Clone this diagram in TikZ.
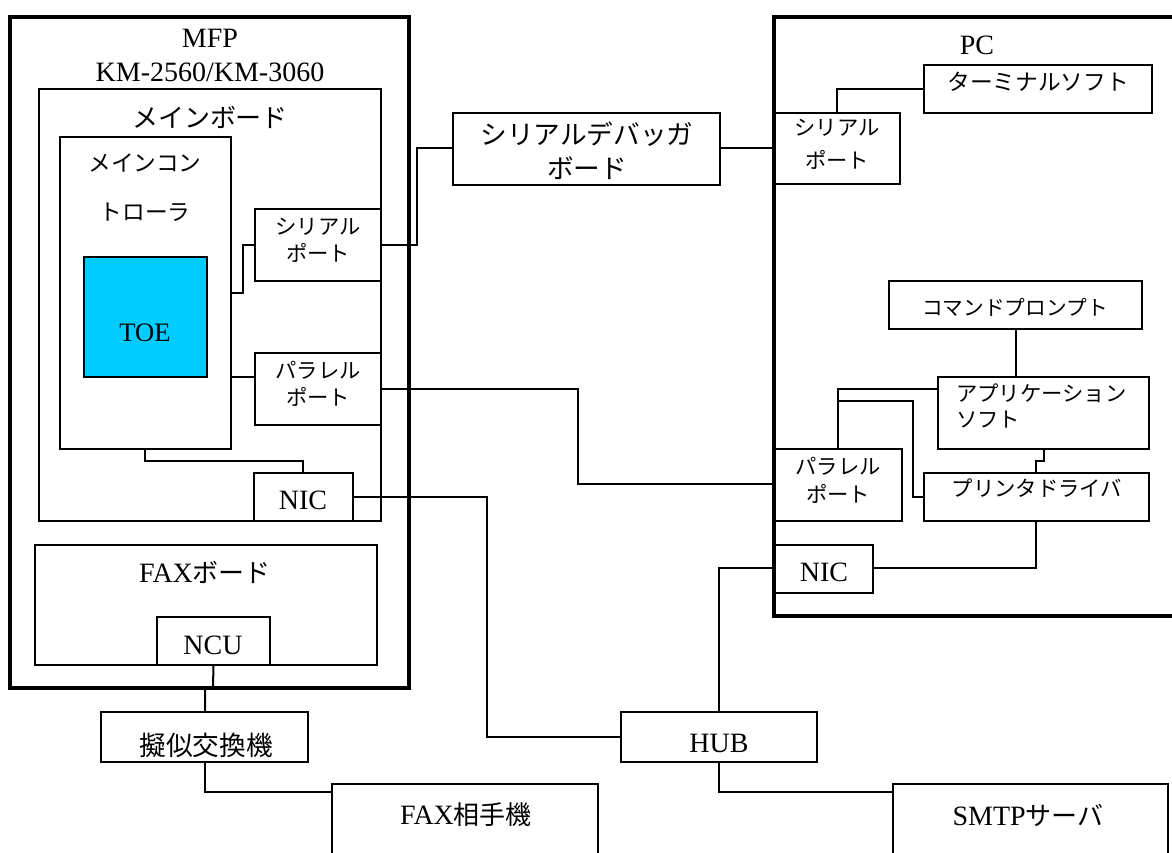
\documentclass[tikz,border=0pt]{standalone}
\usepackage{fontspec}
\setmainfont{Liberation Serif}
\newfontfamily\jp{Noto Sans CJK JP}
\newcommand\mybox[6]{%
  \node[#6, minimum width={(#4-#2)*0.75pt}, minimum height={(#5-#3)*0.75pt}] (#1) at ({(#2+#4)/2},{(#3+#5)/2}) {};}
\definecolor{toecyan}{RGB}{0,204,255}
\tikzset{
  box/.style={draw, line width=1.5pt, inner sep=0pt, outer sep=0pt},
  bigbox/.style={draw, line width=3.2pt, inner sep=0pt, outer sep=0pt},
  wire/.style={line width=1.5pt},
  lat/.style={font=\fontsize{21}{25}\selectfont, inner sep=0pt},
  jpL/.style={font=\jp\fontsize{19.5}{23}\selectfont, inner sep=0pt},
  jpM/.style={font=\jp\fontsize{17}{20}\selectfont, inner sep=0pt},
  jpS/.style={font=\jp\fontsize{16}{19}\selectfont, inner sep=0pt},
  jpXS/.style={font=\jp\fontsize{15.5}{18}\selectfont, inner sep=0pt},
}
\begin{document}
\begin{tikzpicture}[x=0.75pt,y=-0.75pt]
\clip (0,0) rectangle (1172,853);
\fill[white] (0,0) rectangle (1172,853);
% big containers
\mybox{mfp}{10}{17}{409}{688}{bigbox}
\mybox{pc}{774}{17}{1190}{616}{bigbox}
% MFP internals
\mybox{mainb}{39}{89}{381}{521}{box}
\mybox{ctrl}{60}{137}{231}{449}{box}
\mybox{toe}{84}{257}{207}{377}{box, fill=toecyan}
\mybox{mser}{255}{209}{381}{281}{box}
\mybox{mpar}{255}{353}{381}{425}{box}
\mybox{mnic}{254}{473}{353}{521}{box}
\mybox{faxb}{35}{545}{377}{665}{box}
\mybox{ncu}{157}{617}{270}{665}{box}
% middle
\mybox{dbg}{453}{113}{720}{185}{box}
% PC internals
\mybox{term}{924}{65}{1152}{113}{box}
\mybox{pser}{774}{113}{900}{184}{box}
\mybox{cmd}{889}{281}{1142}{329}{box}
\mybox{app}{938}{377}{1149}{449}{box}
\mybox{ppar}{774}{449}{902}{521}{box}
\mybox{drv}{924}{473}{1149}{521}{box}
\mybox{pnic}{774}{545}{873}{593}{box}
% bottom
\mybox{pbx}{101}{712}{308}{762}{box}
\mybox{fax2}{332}{784}{598}{880}{box}
\mybox{hub}{621}{712}{817}{762}{box}
\mybox{smtp}{893}{784}{1168}{880}{box}

% texts
\node[lat] (tmfp) at (210,38) {MFP};
\node[lat] (tkm) at (210,72) {KM-2560/KM-3060};
\node[jpL] (tmain) at (210,117) {メインボード};
\node[jpM] (tctrl1) at (145,163) {メインコン};
\node[jpM] (tctrl2) at (145,212) {トローラ};
\node[lat, font=\fontsize{20}{24}\selectfont] (ttoe) at (145,333) {TOE};
\node[jpS] (tms1) at (318,227) {シリアル};
\node[jpS] (tms2) at (318,253) {ポート};
\node[jpS] (tmp1) at (318,370) {パラレル};
\node[jpS] (tmp2) at (318,397) {ポート};
\node[lat] (tmnic) at (303,500) {NIC};
\node[lat] (tfaxb) at (205,572) {FAX{\jp\fontsize{19.5}{23}\selectfont ボード}};
\node[lat] (tncu) at (213,645) {NCU};
\node[jpL, font=\jp\fontsize{20}{24}\selectfont] (tdbg1) at (587,134) {シリアルデバッガ};
\node[jpL, font=\jp\fontsize{20}{24}\selectfont] (tdbg2) at (587,168) {ボード};
\node[lat] (tpc) at (977,45) {PC};
\node[jpM] (tterm) at (1038,82) {ターミナルソフト};
\node[jpS] (tps1) at (837,128) {シリアル};
\node[jpS] (tps2) at (837,160) {ポート};
\node[jpXS] (tcmd) at (1015,307) {コマンドプロンプト};
\node[jpS, anchor=west] (tapp1) at (956,393) {アプリケーション};
\node[jpS, anchor=west] (tapp2) at (956,420) {ソフト};
\node[jpS] (tpp1) at (838,466) {パラレル};
\node[jpS] (tpp2) at (838,494) {ポート};
\node[jpS] (tdrv) at (1037,488) {プリンタドライバ};
\node[lat] (tpnic) at (824,572) {NIC};
\node[jpL, font=\jp\fontsize{20}{24}\selectfont] (tpbx) at (206,745) {擬似交換機};
\node[lat] (thub) at (719,743) {HUB};
\node[lat] (tfax2) at (466,815) {FAX{\jp\fontsize{19.5}{23}\selectfont 相手機}};
\node[lat] (tsmtp) at (1028,815) {SMTP{\jp\fontsize{19.5}{23}\selectfont サーバ}};

% wires
\draw[wire] (ctrl.east |- 0,293) -- (243,293) -- (243,245) -- (mser.west |- 0,245);
\draw[wire] (ctrl.east |- 0,377) -- (mpar.west |- 0,377);
\draw[wire] (ctrl.south -| 145,0) -- (145,461) -- (303,461) -- (mnic.north -| 303,0);
\draw[wire] (mser.east |- 0,245) -- (417,245) -- (417,148) -- (dbg.west |- 0,148);
\draw[wire] (dbg.east |- 0,148) -- (pser.west |- 0,148);
\draw[wire] (pser.north -| 837,0) -- (837,89) -- (term.west |- 0,89);
\draw[wire] (mpar.east |- 0,389) -- (578,389) -- (578,484) -- (ppar.west |- 0,484);
\draw[wire] (mnic.east |- 0,497) -- (487,497) -- (487,737) -- (hub.west |- 0,737);
\draw[wire] (hub.north) -- (719,568) -- (pnic.west |- 0,568);
\draw[wire] (hub.south) -- (719,792) -- (smtp.west |- 0,792);
\draw[wire] (ncu.south) -- (213,688) -- (205,688) -- (pbx.north -| 205,0);
\draw[wire] (pbx.south -| 205,0) -- (205,792) -- (fax2.west |- 0,792);
\draw[wire] (cmd.south -| 1016,0) -- (app.north -| 1016,0);
\draw[wire] (ppar.north -| 838,0) -- (838,389) -- (app.west |- 0,389);
\draw[wire] (838,401) -- (913,401) -- (913,497) -- (drv.west |- 0,497);
\draw[wire] (app.south -| 1044,0) -- (1044,461) -- (1036,461) -- (drv.north -| 1036,0);
\draw[wire] (pnic.east |- 0,568) -- (1036,568) -- (drv.south -| 1036,0);
\end{tikzpicture}
\end{document}
